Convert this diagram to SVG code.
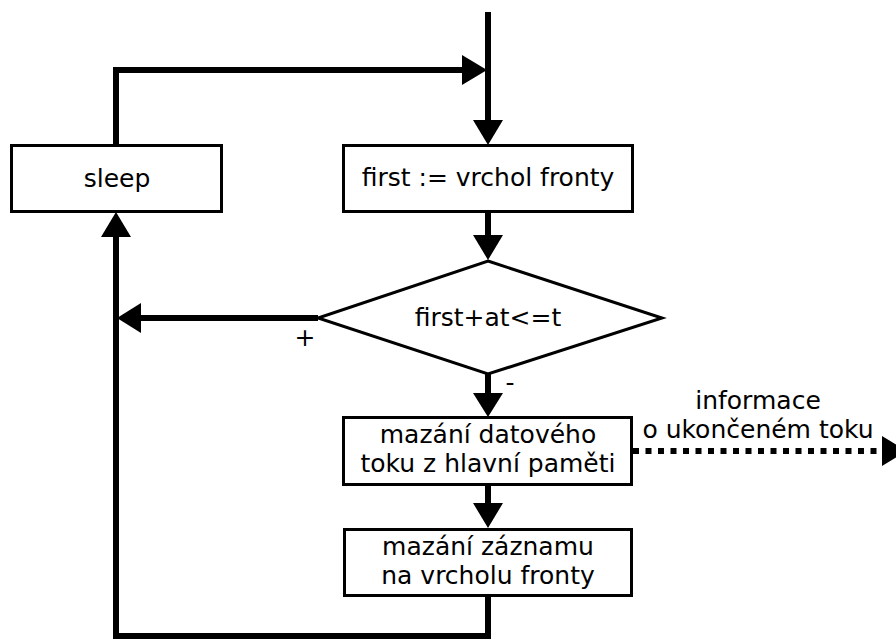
<svg xmlns="http://www.w3.org/2000/svg" width="896" height="639" viewBox="0 0 896 639">
  <style>
    .box { fill: #fff; stroke: #000; stroke-width: 3; }
    .flow { fill: none; stroke: #000; stroke-width: 6; }
    .dotted { fill: none; stroke: #000; stroke-width: 6; stroke-dasharray: 6 6.5; }
    .head { fill: #000; }
    text { font-family: "DejaVu Sans", Verdana, sans-serif; font-size: 25px; fill: #000; text-anchor: middle; }
  </style>

  <!-- connectors -->
  <g id="connectors">
    <!-- incoming flow from top into first box -->
    <path class="flow" d="M488,12 V122"/>
    <polygon class="head" points="473,120 503,120 488,145"/>
    <!-- sleep back to main flow -->
    <path class="flow" d="M116,145 V70 H464"/>
    <polygon class="head" points="462,55 462,85 487,70"/>
    <!-- first box to decision -->
    <path class="flow" d="M488,212 V237"/>
    <polygon class="head" points="473,235 503,235 488,260"/>
    <!-- decision "+" branch to left column -->
    <path class="flow" d="M318,318 H139"/>
    <polygon class="head" points="141,303 141,333 117,318"/>
    <!-- decision "-" branch to box 2 -->
    <path class="flow" d="M488,374 V395"/>
    <polygon class="head" points="473,393 503,393 488,417"/>
    <!-- box 2 to box 3 -->
    <path class="flow" d="M488,485 V505"/>
    <polygon class="head" points="473,503 503,503 488,528"/>
    <!-- box 3 back up to sleep -->
    <path class="flow" d="M488,596 V636 H116 V235"/>
    <polygon class="head" points="101,237 131,237 116,212"/>
    <!-- information output -->
    <path class="dotted" d="M633,451 H882"/>
    <polygon class="head" points="882,436 882,466 907,451"/>
  </g>

  <g id="sleep">
    <rect class="box" x="11.5" y="145.5" width="210" height="66"/>
    <text x="117" y="187">sleep</text>
  </g>

  <g id="first">
    <rect class="box" x="343.5" y="145.5" width="289" height="66"/>
    <text x="488" y="186">first := vrchol fronty</text>
  </g>

  <g id="decision">
    <polygon class="box" points="488,261 662,318 488,374 318,318"/>
    <text x="488" y="326">first+at&lt;=t</text>
    <text x="305" y="346">+</text>
    <text x="510" y="391">-</text>
  </g>

  <g id="delete-flow">
    <rect class="box" x="343.5" y="417.5" width="288" height="67"/>
    <text x="488" y="443">mazání datového</text>
    <text x="488" y="472">toku z hlavní paměti</text>
  </g>

  <g id="delete-record">
    <rect class="box" x="344.5" y="529.5" width="287" height="66"/>
    <text x="488" y="555">mazání záznamu</text>
    <text x="488" y="584">na vrcholu fronty</text>
  </g>

  <g id="info-label">
    <text x="758" y="409">informace</text>
    <text x="758" y="438">o ukončeném toku</text>
  </g>
</svg>
